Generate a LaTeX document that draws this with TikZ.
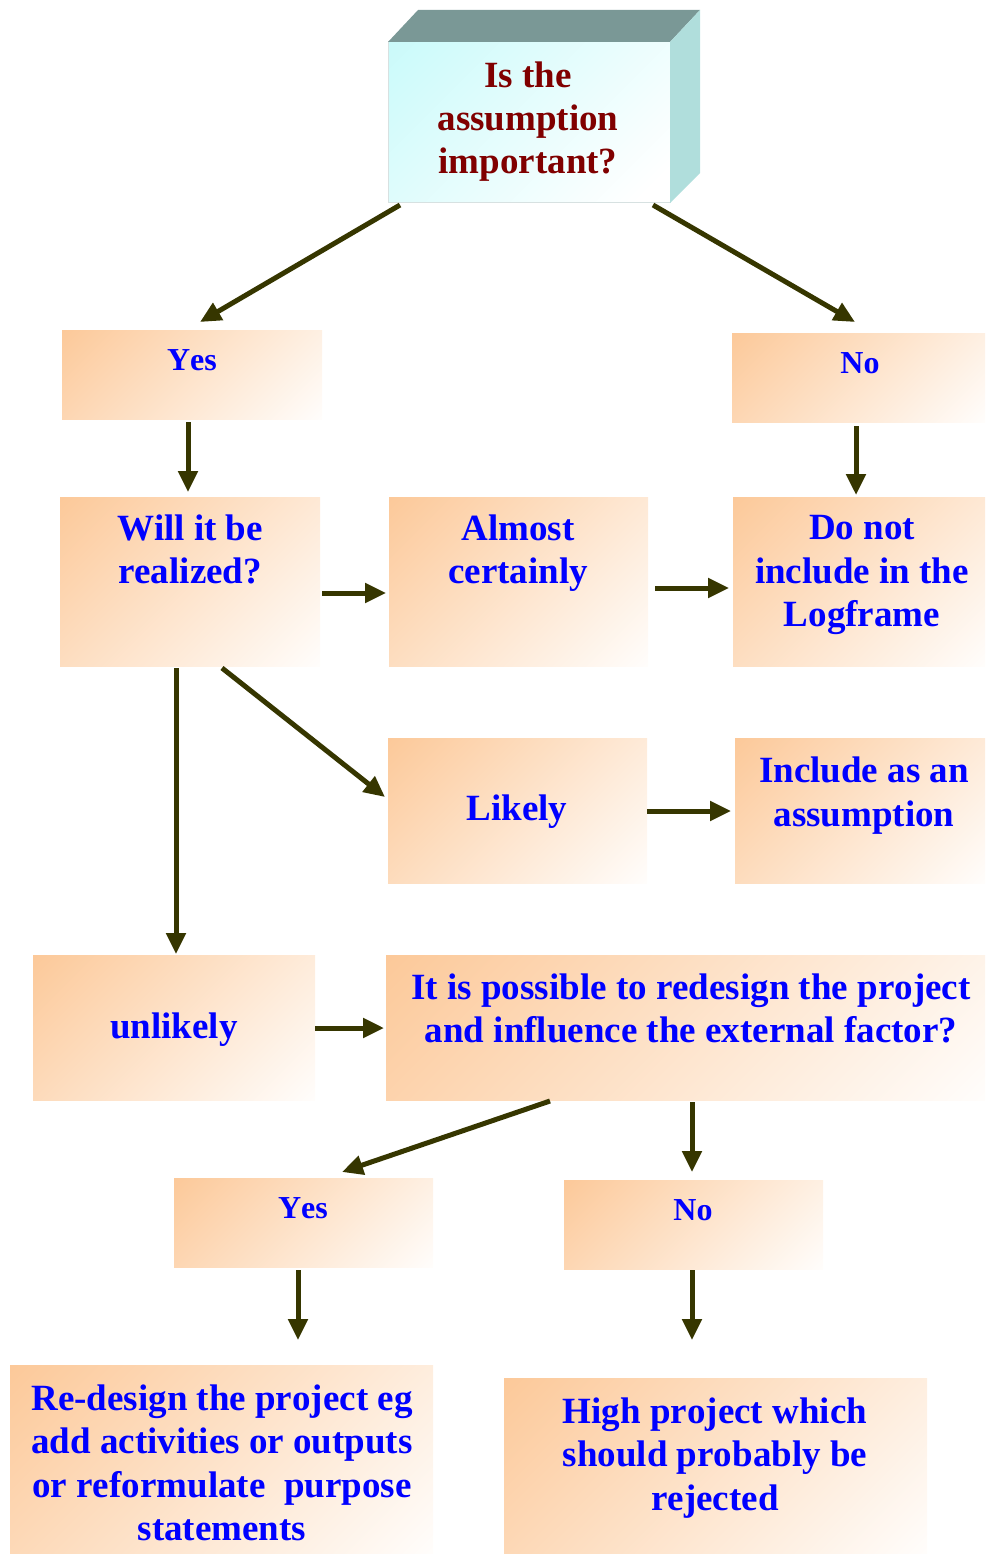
\documentclass[tikz,border=0pt]{standalone}
\usepackage{fontspec}
\setmainfont{Liberation Serif}[Kerning=Off]
\usetikzlibrary{arrows.meta,calc}

\definecolor{peach}{RGB}{252,199,150}
\definecolor{ink}{RGB}{0,0,255}
\definecolor{wine}{RGB}{128,0,0}
\definecolor{olive}{RGB}{54,54,0}
\definecolor{aqua}{RGB}{200,250,250}
\definecolor{lid}{RGB}{122,152,150}
\definecolor{side}{RGB}{176,222,220}
\definecolor{rim}{RGB}{215,225,225}

% corner-to-corner fades used for the box fills
\pgfdeclareverticalshading{peachfade}{100bp}{color(0bp)=(white); color(12bp)=(white); color(88bp)=(peach); color(100bp)=(peach)}
\pgfdeclareverticalshading{aquafade}{100bp}{color(0bp)=(white); color(20bp)=(white); color(88bp)=(aqua); color(100bp)=(aqua)}

\begin{document}
\begin{tikzpicture}[x=1pt,y=-1pt,
  pbox/.style={draw=none, inner sep=0pt, outer sep=0pt, anchor=north west,
    shading=peachfade, shading angle=45},
  txt/.style={align=center, inner sep=0pt, anchor=north,
    execute at begin node=\strut, execute at end node=\strut},
  big/.style={txt, font=\fontsize{37}{43.5}\selectfont\bfseries, text=ink},
  small/.style={txt, font=\fontsize{32}{43.5}\selectfont\bfseries, text=ink},
  conn/.style={draw=olive, line width=5pt, -{Triangle[length=21pt,width=19pt]}}]

\useasboundingbox (0,0) rectangle (986,1554);

% question box drawn as a block: lid, side and front face
\node[draw=rim, line width=1pt, inner sep=0pt, outer sep=0pt, anchor=north west,
  minimum width=282pt, minimum height=161pt,
  shading=aquafade, shading angle=45] (q) at (388,42) {};
\fill[lid] (q.north west) -- ++(30,-32) -- ++(282,0) -- (q.north east) -- cycle;
\fill[side] (q.north east) -- ++(30,-32) -- ++(0,163) -- (q.south east) -- cycle;
\node[txt, font=\fontsize{37}{43}\selectfont\bfseries, text=wine]
  (qt) at (528,61.9) {Is the\\assumption\\important?};

% answer boxes
\node[pbox, minimum width=260pt, minimum height=89pt]  (yes1) at (62,330) {};
\node[pbox, minimum width=253pt, minimum height=89pt]  (no1) at (732,333) {};
\node[pbox, minimum width=260pt, minimum height=169pt] (will) at (60,497) {};
\node[pbox, minimum width=259pt, minimum height=169pt] (almost) at (389,497) {};
\node[pbox, minimum width=252pt, minimum height=169pt] (donot) at (733,497) {};
\node[pbox, minimum width=259pt, minimum height=145pt] (likely) at (388,738) {};
\node[pbox, minimum width=250pt, minimum height=145pt] (incl) at (735,738) {};
\node[pbox, minimum width=282pt, minimum height=145pt] (unlikely) at (33,955) {};
\node[pbox, minimum width=599pt, minimum height=145pt] (poss) at (386,955) {};
\node[pbox, minimum width=259pt, minimum height=89pt]  (yes2) at (174,1178) {};
\node[pbox, minimum width=259pt, minimum height=89pt]  (no2) at (564,1180) {};
\node[pbox, minimum width=423pt, minimum height=189pt] (redesign) at (10,1365) {};
\node[pbox, minimum width=423pt, minimum height=176pt] (high) at (504,1378) {};

% texts (each placed by the top of its first line)
\node[small] (yes1t) at (192,339.5) {Yes};
\node[small] (no1t) at (860,342.5) {No};
\node[big] (willt) at (190,514.5) {Will it be\\realized?};
\node[big] (almostt) at (518,514.5) {Almost\\certainly};
\node[big] (donott) at (862,515.5) {Do not\\include in the\\Logframe};
\node[big] (likelyt) at (517,789.5) {Likely};
\node[big] (inclt) at (864,757) {Include as an\\assumption};
\node[big] (unlikelyt) at (174,1007.5) {unlikely};
\node[big] (posst) at (691,973.5) {It is possible to redesign the project\\and influence the external factor?};
\node[small] (yes2t) at (303,1187.5) {Yes};
\node[small] (no2t) at (693,1189.5) {No};
\node[big] (redesignt) at (222,1384.5) {Re-design the project eg\\add activities or outputs\\or reformulate\ \ purpose\\statements};
\node[big] (hight) at (715,1397.5) {High project which\\should probably be\\rejected};

% connectors
\draw[conn] ($(q.south west)+(12,2)$) -- ($(yes1.north)+(8,-8)$);
\draw[conn] ($(q.south east)+(-17,2)$) -- ($(no1.north)+(-3.5,-11)$);
\draw[conn] ($(yes1.south)+(-4,3)$) -- ($(will.north)+(-2,-5)$);
\draw[conn] ($(no1.south)+(-2.5,4)$) -- ($(donot.north)+(-3,-2)$);
\draw[conn] ($(will.east)+(2,11.5)$) -- ($(almost.west)+(-3,11.5)$);
\draw[conn] ($(almost.east)+(7,6.5)$) -- ($(donot.west)+(-4,6.5)$);
\draw[conn] ($(will.south)+(32,2)$) -- ($(likely.west)+(-3,-13.5)$);
\draw[conn] ($(will.south)+(-14,2)$) -- ($(unlikely.north)+(2,-1)$);
\draw[conn] ($(likely.east)+(0,0.5)$) -- ($(incl.west)+(-4,0.5)$);
\draw[conn] ($(unlikely.east)+(0,0.5)$) -- ($(poss.west)+(-2,0.5)$);
\draw[conn] ($(poss.south)+(-135.5,1)$) -- ($(yes2.north)+(38.5,-6)$);
\draw[conn] ($(poss.south)+(6.5,2)$) -- ($(no2.north)+(-1.5,-8)$);
\draw[conn] ($(yes2.south)+(-5.5,3)$) -- ($(redesign.north)+(76.5,-25)$);
\draw[conn] ($(no2.south)+(-1.5,1)$) -- ($(high.north)+(-23.5,-38)$);
\end{tikzpicture}
\end{document}
